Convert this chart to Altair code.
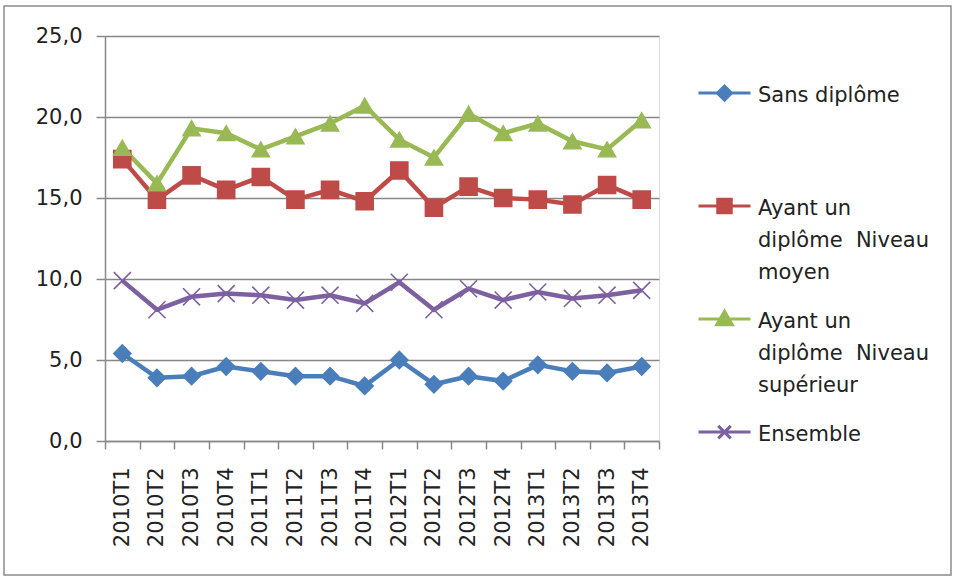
import json

import altair as alt
import pandas as pd

# Trimestres (abscisse)
periodes = [
    "2010T1", "2010T2", "2010T3", "2010T4",
    "2011T1", "2011T2", "2011T3", "2011T4",
    "2012T1", "2012T2", "2012T3", "2012T4",
    "2013T1", "2013T2", "2013T3", "2013T4",
]

# Séries
series = [
    "Sans diplôme",
    "Ayant un diplôme  Niveau moyen",
    "Ayant un diplôme  Niveau supérieur",
    "Ensemble",
]
sans_diplome = [5.4, 3.9, 4.0, 4.6, 4.3, 4.0, 4.0, 3.4, 5.0, 3.5, 4.0, 3.7, 4.7, 4.3, 4.2, 4.6]
niveau_moyen = [17.4, 14.9, 16.4, 15.5, 16.3, 14.9, 15.5, 14.8, 16.7, 14.4, 15.7, 15.0, 14.9, 14.6, 15.8, 14.9]
niveau_superieur = [18.1, 15.9, 19.3, 19.0, 18.0, 18.8, 19.6, 20.7, 18.6, 17.5, 20.2, 19.0, 19.6, 18.5, 18.0, 19.8]
ensemble = [9.9, 8.1, 8.9, 9.1, 9.0, 8.7, 9.0, 8.5, 9.8, 8.1, 9.4, 8.7, 9.2, 8.8, 9.0, 9.3]

# Libellés de légende, ligne par ligne
libelles_legende = [
    ["Sans diplôme"],
    ["Ayant un", "diplôme\u00a0 Niveau", "moyen"],
    ["Ayant un", "diplôme\u00a0 Niveau", "supérieur"],
    ["Ensemble"],
]

couleurs = ["#4A7EBB", "#BE4B48", "#98B954", "#7D60A0"]
FONT = "DejaVu Sans"

rows = []
for serie, valeurs in zip(series, [sans_diplome, niveau_moyen, niveau_superieur, ensemble]):
    for i, (p, v) in enumerate(zip(periodes, valeurs)):
        rows.append({"serie": serie, "periode": p, "idx": i, "valeur": v})
df = pd.DataFrame(rows)

# Marqueurs sur les courbes
formes = ["diamond", "square", "triangle-up", "M-1,-1L1,1M-1,1L1,-1"]


# Symboles de légende : trait horizontal traversant le marqueur
def symbole(marqueur, d=0.33):
    if marqueur == "diamond":
        r = 0.27
        return (f"M-1,{d}H{-r}L0,{d - r}L{r},{d}H1"
                f"M{-r},{d}L0,{d + r}L{r},{d}Z")
    if marqueur == "square":
        r = 0.26
        return f"M-1,{d}H1M{-r},{d - r}H{r}V{d + r}H{-r}Z"
    if marqueur == "triangle":
        r = 0.3
        return f"M-1,{d}H1M0,{d - r}L{r},{d + 0.22}H{-r}Z"
    r = 0.24
    return f"M-1,{d}H1M{-r},{d - r}L{r},{d + r}M{-r},{d + r}L{r},{d - r}"


formes_legende = [symbole(m) for m in ["diamond", "square", "triangle", "x"]]

# Libellés multi-lignes (complétés à trois lignes pour un espacement régulier)
lignes = [l + [""] * (3 - len(l)) for l in libelles_legende]
label_expr = f"{json.dumps(lignes)}[indexof({json.dumps(series)}, datum.label)]"

x_enc = alt.X(
    "periode:N",
    sort=periodes,
    bandPosition=0.5,
    scale=alt.Scale(type="band", paddingInner=0, paddingOuter=0),
    axis=alt.Axis(
        title=None,
        labelAngle=270,
        tickBand="extent",
        tickSize=8,
        labelPadding=18,
        domainColor="#888888",
        domainWidth=1.5,
        tickColor="#888888",
        tickWidth=1.5,
        grid=False,
        labelFont=FONT,
        labelFontSize=21,
        labelColor="#222222",
    ),
)
y_enc = alt.Y(
    "valeur:Q",
    scale=alt.Scale(domain=[0, 25], nice=False),
    axis=alt.Axis(
        title=None,
        values=[0, 5, 10, 15, 20, 25],
        labelExpr="replace(format(datum.value, '.1f'), '.', ',')",
        tickSize=9,
        labelPadding=14,
        domainColor="#888888",
        domainWidth=1.5,
        tickColor="#888888",
        tickWidth=1.5,
        gridColor="#868686",
        gridWidth=1.5,
        labelFont=FONT,
        labelFontSize=21,
        labelColor="#222222",
    ),
)

base = alt.Chart(df)

lignes_chart = base.mark_line(strokeWidth=4.5).encode(
    x=x_enc,
    y=y_enc,
    color=alt.Color("serie:N", scale=alt.Scale(domain=series, range=couleurs), legend=None),
    order="idx:Q",
)

points = base.mark_point(filled=True, size=290, strokeWidth=1.6, opacity=1).encode(
    x=x_enc,
    y=y_enc,
    fill=alt.Fill("serie:N", scale=alt.Scale(domain=series, range=couleurs), legend=None),
    stroke=alt.Stroke("serie:N", scale=alt.Scale(domain=series, range=couleurs), legend=None),
    shape=alt.Shape("serie:N", scale=alt.Scale(domain=series, range=formes), legend=None),
)

legende = alt.Legend(
    title=None,
    orient="none",
    legendX=592,
    legendY=21,
    padding=0,
    rowPadding=0,
    labelExpr=label_expr,
    labelBaseline="top",
    labelFont=FONT,
    labelFontSize=21,
    labelColor="#222222",
    labelLimit=0,
    labelOffset=6,
    symbolSize=2704,
    symbolStrokeWidth=3,
    symbolOpacity=1,
)

porteur_legende = base.mark_point(opacity=0).encode(
    x=x_enc,
    y=y_enc,
    fill=alt.Fill("serie:N", scale=alt.Scale(domain=series, range=couleurs), legend=legende),
    stroke=alt.Stroke("serie:N", scale=alt.Scale(domain=series, range=couleurs), legend=legende),
    shape=alt.Shape("serie:N", scale=alt.Scale(domain=series, range=formes_legende), legend=legende),
)

cadre = alt.Chart(pd.DataFrame({"k": [0]})).mark_rect(
    fill="transparent", stroke="#8c8c8c", strokeWidth=1.5
).encode(
    x=alt.value(-101), x2=alt.value(846), y=alt.value(-30), y2=alt.value(539)
)

chart = (
    alt.layer(cadre, lignes_chart, points, porteur_legende)
    .resolve_scale(color="independent", fill="independent", stroke="independent", shape="independent")
    .properties(
        width=554,
        height=405,
        autosize=alt.AutoSizeParams(type="none"),
        padding={"left": 105, "top": 36, "right": 296, "bottom": 139},
        background="white",
    )
    .configure_view(stroke=None)
    .configure(style={"guide-label": {"lineHeight": 32}})
)

chart.save("out.html", embed_options={"renderer": "svg", "actions": False})
